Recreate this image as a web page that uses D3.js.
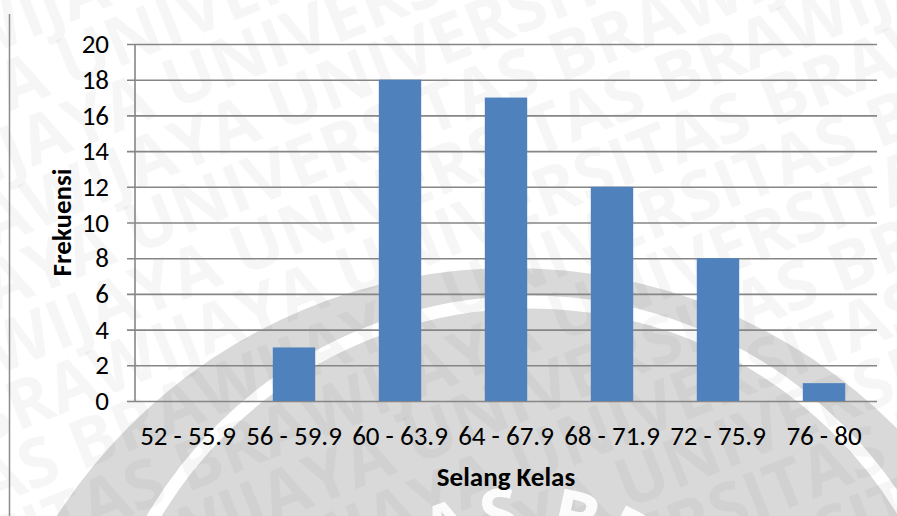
<!DOCTYPE html>
<html>
<head>
<meta charset="utf-8">
<script src="https://cdn.jsdelivr.net/npm/d3@7"></script>
<style>
  html, body { margin: 0; padding: 0; background: #ffffff; }
  svg { display: block; }
  text { font-family: Carlito, Calibri, "Open Sans", sans-serif; }
</style>
</head>
<body>
<svg id="chart" width="897" height="516"></svg>
<script>
// Frequency distribution of scores by class interval
const categories = ["52 - 55.9", "56 - 59.9", "60 - 63.9", "64 - 67.9", "68 - 71.9", "72 - 75.9", "76 - 80"];
const frequencies = [0, 3, 18, 17, 12, 8, 1];
const yTicks = [0, 2, 4, 6, 8, 10, 12, 14, 16, 18, 20];
const xTitle = "Selang Kelas";
const yTitle = "Frekuensi";
const watermarkText = "UNIVERSITAS BRAWIJAYA";

const W = 897, H = 516;
const FONT = "Carlito, Calibri, 'Open Sans', sans-serif";
const LABEL_SIZE = 27;
const svg = d3.select("#chart");

// ---- background watermark ----
const bg = svg.append("g").attr("class", "watermark");

// large seal: grey disc, white inner ring, lettering
bg.append("circle").attr("cx", 512).attr("cy", 810).attr("r", 542).attr("fill", "#d9d9d9");
const sx = 530, sy = 739;
bg.append("circle").attr("cx", sx).attr("cy", sy).attr("r", 437)
  .attr("fill", "none").attr("stroke", "#ffffff").attr("stroke-width", 13);

// diagonal repeated lettering
const rows = bg.append("g").attr("transform", "rotate(-22 448 258)");
for (let i = -7; i <= 9; i++) {
  rows.append("text")
    .attr("x", -520 + (i % 3) * 90)
    .attr("y", 258 + i * 60)
    .attr("font-size", 68)
    .attr("font-weight", 700)
    .attr("fill", "#000")
    .attr("fill-opacity", 0.035)
    .style("font-family", "'Open Sans', sans-serif")
    .text((watermarkText + " ").repeat(4));
}

// curved lettering on the top of the seal (short arc, only the upper letters show)
const arcR = 202;
const a0 = -150 * Math.PI / 180, a1 = -30 * Math.PI / 180;
bg.append("path").attr("id", "sealArc")
  .attr("d", `M ${sx + arcR * Math.cos(a0)},${sy + arcR * Math.sin(a0)} ` +
             `A ${arcR},${arcR} 0 0 1 ${sx + arcR * Math.cos(a1)},${sy + arcR * Math.sin(a1)}`)
  .attr("fill", "none");
bg.append("text")
  .attr("font-size", 70)
  .attr("font-weight", 700)
  .attr("letter-spacing", 4)
  .attr("fill", "#ffffff")
  .attr("fill-opacity", 0.9)
  .style("font-family", "'Open Sans', sans-serif")
  .append("textPath")
  .attr("href", "#sealArc")
  .attr("startOffset", "50%")
  .attr("text-anchor", "middle")
  .text("ITAS BRA");

// left frame edge
svg.append("line")
  .attr("x1", 9.5).attr("x2", 9.5).attr("y1", 14).attr("y2", H)
  .attr("stroke", "#8c8c8c").attr("stroke-width", 1.5);

// ---- chart ----
const plot = { left: 135, right: 877, top: 44, bottom: 401 };

const x = d3.scaleBand()
  .domain(categories)
  .range([plot.left, plot.right])
  .paddingInner(0.6)
  .paddingOuter(0.3);

const y = d3.scaleLinear()
  .domain([0, 20])
  .range([plot.bottom, plot.top]);

// horizontal gridlines with left tick stubs, y labels
const yAxis = d3.axisLeft(y)
  .tickValues(yTicks)
  .tickSize(-(plot.right - plot.left))
  .tickPadding(26)
  .tickFormat(d3.format("d"));

const gy = svg.append("g")
  .attr("transform", `translate(${plot.left},0)`)
  .call(yAxis);
gy.select(".domain").remove();
gy.selectAll(".tick line")
  .attr("x1", -8)
  .attr("stroke", "#868686")
  .attr("stroke-width", 1.6);
gy.selectAll(".tick text")
  .attr("fill", "#000")
  .attr("font-size", LABEL_SIZE)
  .style("font-family", FONT);

// vertical axis line
svg.append("line")
  .attr("x1", plot.left).attr("x2", plot.left)
  .attr("y1", y(20)).attr("y2", y(0))
  .attr("stroke", "#868686").attr("stroke-width", 1.6);

// bars
svg.append("g").selectAll("rect")
  .data(categories.map((c, i) => ({ c, v: frequencies[i] })))
  .join("rect")
  .attr("x", d => x(d.c))
  .attr("width", x.bandwidth())
  .attr("y", d => y(d.v))
  .attr("height", d => y(0) - y(d.v))
  .attr("fill", "#4f81bd");

// x axis labels
const xAxis = d3.axisBottom(x).tickSize(0).tickPadding(25);
const gx = svg.append("g")
  .attr("transform", `translate(0,${plot.bottom})`)
  .call(xAxis);
gx.select(".domain").remove();
gx.selectAll(".tick text")
  .attr("fill", "#000")
  .attr("font-size", LABEL_SIZE)
  .style("font-family", FONT);

// axis titles
svg.append("text")
  .attr("x", (plot.left + plot.right) / 2)
  .attr("y", 486)
  .attr("text-anchor", "middle")
  .attr("font-size", LABEL_SIZE)
  .attr("font-weight", 700)
  .attr("fill", "#000")
  .style("font-family", FONT)
  .text(xTitle);

svg.append("text")
  .attr("transform", `translate(71,${(plot.top + plot.bottom) / 2}) rotate(-90)`)
  .attr("text-anchor", "middle")
  .attr("font-size", LABEL_SIZE)
  .attr("font-weight", 700)
  .attr("fill", "#000")
  .style("font-family", FONT)
  .text(yTitle);
</script>
</body>
</html>
